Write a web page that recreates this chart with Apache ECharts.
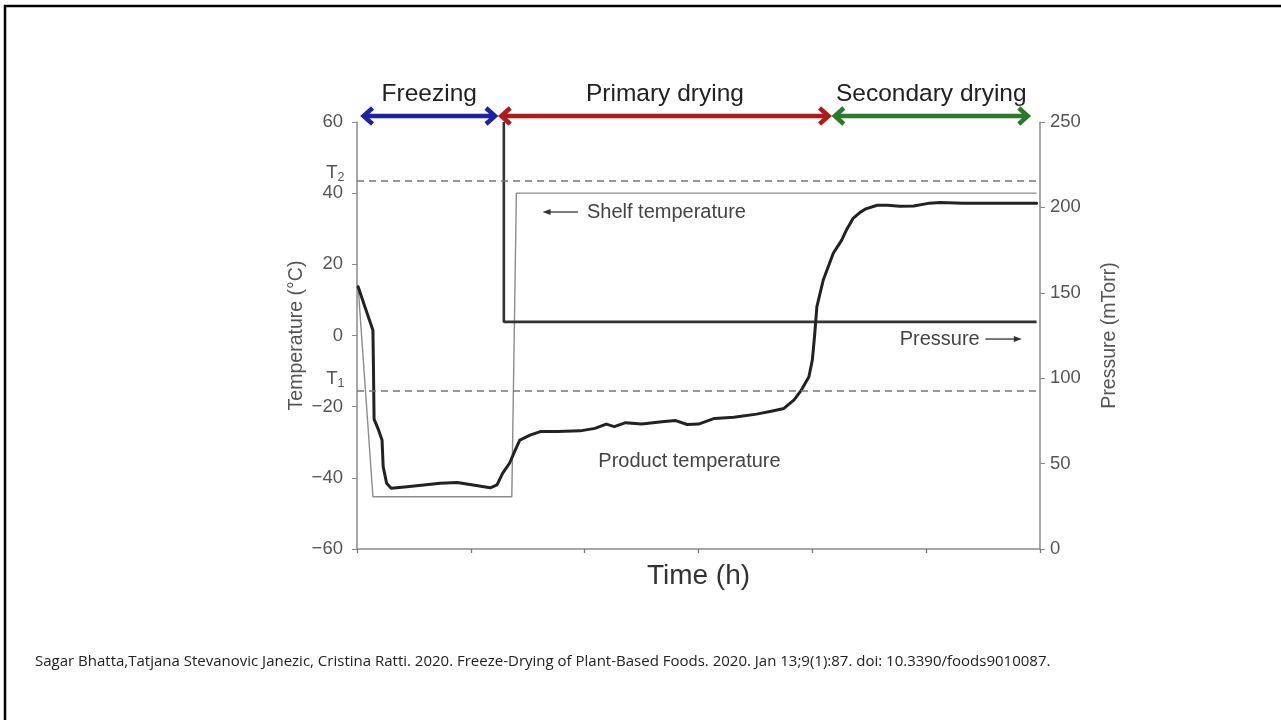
<!DOCTYPE html>
<html>
<head>
<meta charset="utf-8">
<script src="https://cdn.jsdelivr.net/npm/echarts@6/dist/echarts.min.js"></script>
<style>
html,body{margin:0;padding:0;background:#fff;}
#chart{width:1281px;height:720px;}
</style>
</head>
<body>
<div id="chart"></div>
<script>
// ---- data ----
const productTemp = [
  [0.01,13.7],[0.07,8.0],[0.14,1.5],[0.145,-10],[0.15,-23.5],[0.19,-26.6],[0.22,-29.4],[0.23,-36.9],
  [0.26,-41.5],[0.30,-42.9],[0.44,-42.5],[0.73,-41.5],[0.88,-41.3],[1.02,-42],[1.17,-42.8],
  [1.23,-42],[1.28,-38.7],[1.34,-35.9],[1.39,-32.2],[1.43,-29.4],[1.52,-28],[1.61,-27],
  [1.76,-27],[1.96,-26.8],[2.09,-26.1],[2.19,-24.9],[2.26,-25.6],[2.36,-24.5],[2.50,-24.9],
  [2.70,-24.2],[2.80,-23.9],[2.90,-25],[3.00,-24.9],[3.14,-23.3],[3.31,-23],[3.51,-22.1],
  [3.65,-21.2],[3.75,-20.5],[3.84,-18.1],[3.90,-15.5],[3.97,-11.6],[4.00,-6.9],[4.02,0],
  [4.04,8.1],[4.096,15.6],[4.184,23.1],[4.258,26.8],[4.302,29.8],[4.36,33.0],[4.42,34.6],
  [4.47,35.6],[4.57,36.6],[4.66,36.6],[4.77,36.3],[4.89,36.4],[5.03,37.2],[5.12,37.4],[5.33,37.2],[5.97,37.2]
];
const shelfTemp = [[0.01,13.7],[0.14,-45.3],[1.36,-45.3],[1.40,40],[5.97,40]];
const pressure = [[1.29,250],[1.29,133],[5.97,133]];
const T1 = -15.5;
const T2 = 43.5;

const phaseNames = ['Freezing','Primary drying','Secondary drying'];
const phaseRanges = [[0.04,1.23,61.7],[1.25,4.16,61.7],[4.18,5.91,61.7]];
const phaseLabelY = 67.8;

const tempTicks = [-60,-40,-20,0,20,40,60];
const pressureTicks = [0,50,100,150,200,250];

const noteTexts = ['Shelf temperature','Pressure','Product temperature'];
const noteAnchors = [[2.02,34.7],[5.47,-1.0],[2.12,-35.5]];
const noteArrows = [[1.94,1.63,34.7],[5.52,5.84,-1.0]];
const thresholdLabels = [['T','2',-0.19,45.7],['T','1',-0.19,-12.2]];

const citation = 'Sagar Bhatta,Tatjana Stevanovic Janezic, Cristina Ratti. 2020. Freeze-Drying of Plant-Based Foods. 2020. Jan 13;9(1):87. doi: 10.3390/foods9010087.';

// ---- chart ----
const chart = echarts.init(document.getElementById('chart'), null, {renderer:'canvas'});
const FONT = 'Liberation Sans, Arial, sans-serif';
const axisGray = '#8a8a8a';
const labelGray = '#555';
const phaseColors = ['#1b22a6','#b01a1a','#2b7a2b'];
const fmtMinus = v => v < 0 ? '\u2212' + Math.abs(v) : String(v);

const option = {
  animation:false,
  backgroundColor:'#fff',
  title:{
    text:citation, left:30, top:649,
    textStyle:{fontSize:15, fontWeight:'normal', color:'#222', fontFamily:'Open Sans, Liberation Sans, Arial'}
  },
  grid:{left:357, right:241, top:122, bottom:171, containLabel:false},
  xAxis:{
    type:'value', min:0, max:6, interval:1,
    name:'Time (h)', nameLocation:'middle', nameGap:13,
    nameTextStyle:{fontSize:28, color:'#333', fontFamily:FONT},
    axisLine:{show:true, onZero:false, lineStyle:{color:axisGray, width:1.5}},
    axisTick:{show:true, length:4, lineStyle:{color:'#777', width:1.3}},
    axisLabel:{show:false},
    splitLine:{show:false}
  },
  yAxis:[{
    type:'value', min:tempTicks[0], max:tempTicks[tempTicks.length-1], interval:20, position:'left',
    name:'Temperature (\u00B0C)', nameLocation:'middle', nameGap:50, nameRotate:90, nameMoveOverlap:false,
    nameTextStyle:{fontSize:19.5, color:labelGray, fontFamily:FONT},
    axisLine:{show:true, onZero:false, lineStyle:{color:axisGray, width:1.5}},
    axisTick:{show:true, length:5, lineStyle:{color:axisGray}},
    axisLabel:{fontSize:18.5, color:labelGray, margin:14, fontFamily:FONT, formatter:fmtMinus},
    splitLine:{show:false}
  },{
    type:'value', min:pressureTicks[0], max:pressureTicks[pressureTicks.length-1], interval:50, position:'right',
    name:'Pressure (mTorr)', nameLocation:'middle', nameGap:60, nameRotate:90,
    nameTextStyle:{fontSize:19.5, color:labelGray, fontFamily:FONT},
    axisLine:{show:true, onZero:false, lineStyle:{color:axisGray, width:1.5}},
    axisTick:{show:true, length:5, lineStyle:{color:axisGray}},
    axisLabel:{fontSize:18.5, color:labelGray, margin:10, fontFamily:FONT},
    splitLine:{show:false}
  }],
  series:[
    {
      name:'Shelf temperature', type:'line', yAxisIndex:0, data:shelfTemp, symbol:'none', clip:false,
      lineStyle:{color:'#8c8c8c', width:1.4}, z:2
    },
    {
      name:'Pressure', type:'line', yAxisIndex:1, data:pressure, symbol:'none', clip:false,
      lineStyle:{color:'#333', width:2.6}, z:3
    },
    {
      name:'Product temperature', type:'line', yAxisIndex:0, data:productTemp, symbol:'none', clip:false,
      smooth:false,
      lineStyle:{color:'#222', width:3, join:'round', cap:'round'}, z:4,
      markLine:{
        silent:true, symbol:'none',
        lineStyle:{type:[7,5], color:'#777', width:1.5},
        label:{show:false},
        data:[{yAxis:T1},{yAxis:T2}]
      }
    },
    {
      name:'phases', type:'custom', yAxisIndex:0, clip:false, silent:true, z:5,
      data:phaseRanges,
      renderItem:function(params, api){
        const s = api.coord([api.value(0), api.value(2)]);
        const e = api.coord([api.value(1), api.value(2)]);
        const ty = api.coord([0, phaseLabelY])[1];
        const c = phaseColors[params.dataIndex];
        const hh = 8, hw = 11, lw = 4.5;
        return {type:'group', children:[
          {type:'line', shape:{x1:s[0]+2, y1:s[1], x2:e[0]-2, y2:e[1]}, style:{stroke:c, lineWidth:lw}},
          {type:'polyline', shape:{points:[[s[0]+hw, s[1]-hh],[s[0]+2, s[1]],[s[0]+hw, s[1]+hh]]},
            style:{stroke:c, lineWidth:lw, fill:null, lineJoin:'miter'}},
          {type:'polyline', shape:{points:[[e[0]-hw, e[1]-hh],[e[0]-2, e[1]],[e[0]-hw, e[1]+hh]]},
            style:{stroke:c, lineWidth:lw, fill:null, lineJoin:'miter'}},
          {type:'text', x:(s[0]+e[0])/2, y:ty,
            style:{text:phaseNames[params.dataIndex], fontSize:24.5, fill:'#222', fontFamily:FONT,
              align:'center', verticalAlign:'middle'}}
        ]};
      }
    },
    {
      name:'notes', type:'custom', yAxisIndex:0, clip:false, silent:true, z:5,
      data:noteAnchors,
      renderItem:function(params, api){
        const p = api.coord([api.value(0), api.value(1)]);
        const i = params.dataIndex;
        const align = i === 1 ? 'right' : 'left';
        return {type:'text', x:p[0], y:p[1],
          style:{text:noteTexts[i], fontSize:20, fill:'#444', fontFamily:FONT, align:align, verticalAlign:'middle'}};
      }
    },
    {
      name:'noteArrows', type:'custom', yAxisIndex:0, clip:false, silent:true, z:5,
      data:noteArrows,
      renderItem:function(params, api){
        const a = api.coord([api.value(0), api.value(2)]);
        const b = api.coord([api.value(1), api.value(2)]);
        const dir = b[0] > a[0] ? 1 : -1;
        return {type:'group', children:[
          {type:'line', shape:{x1:a[0], y1:a[1], x2:b[0]-dir*5, y2:b[1]}, style:{stroke:'#333', lineWidth:1.3}},
          {type:'polygon', shape:{points:[[b[0], b[1]],[b[0]-dir*8, b[1]-3],[b[0]-dir*8, b[1]+3]]}, style:{fill:'#333'}}
        ]};
      }
    },
    {
      name:'thresholds', type:'custom', yAxisIndex:0, clip:false, silent:true, z:5,
      data:thresholdLabels.map(t => [t[2], t[3]]),
      renderItem:function(params, api){
        const p = api.coord([api.value(0), api.value(1)]);
        const t = thresholdLabels[params.dataIndex];
        return {type:'text', x:p[0], y:p[1],
          style:{text:'{t|' + t[0] + '}{s|' + t[1] + '}', align:'center', verticalAlign:'middle',
            rich:{t:{fontSize:18.5, fill:labelGray, fontFamily:FONT}, s:{fontSize:12.5, fill:labelGray, fontFamily:FONT, verticalAlign:'bottom', padding:[9,0,0,0]}}}};
      }
    }
  ],
  graphic:[{
    type:'polyline', silent:true,
    shape:{points:[[5,720],[5,6],[1281,6]]},
    style:{stroke:'#000', lineWidth:2.5, fill:null}
  }]
};
chart.setOption(option);
</script>
</body>
</html>
